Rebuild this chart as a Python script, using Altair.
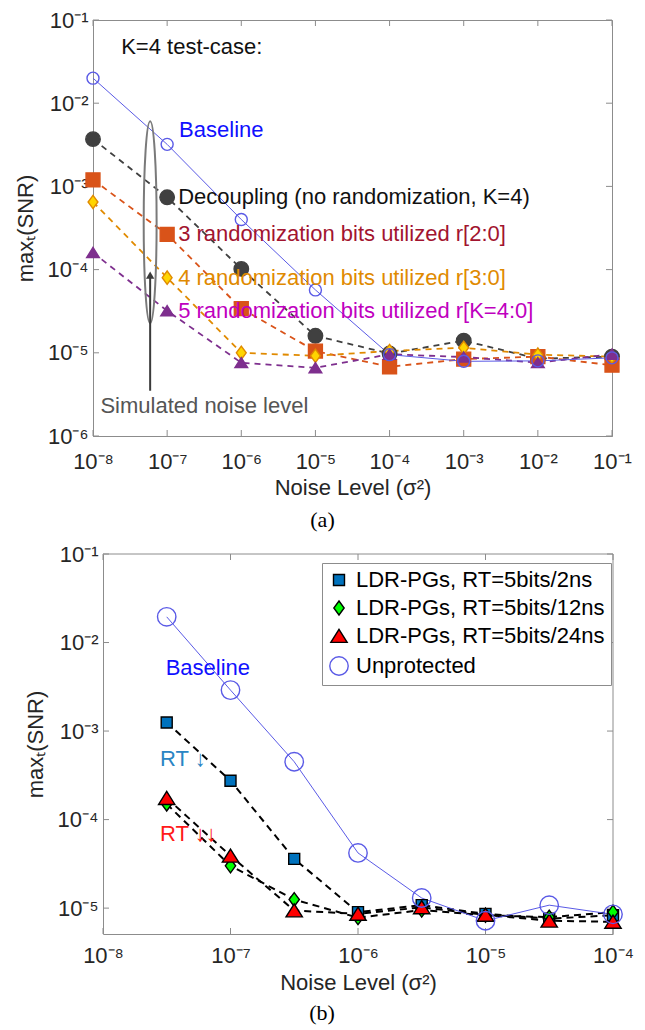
import altair as alt
import pandas as pd

# ---------------- Panel (a) data ----------------
noise_a = [1e-8, 1e-7, 1e-6, 1e-5, 1e-4, 1e-3, 1e-2, 1e-1]
decoupling_a = [3.7e-3, 7.4e-4, 1.02e-4, 1.6e-5, 9.8e-6, 1.4e-5, 8.5e-6, 9.0e-6]
bits3_a = [1.2e-3, 2.65e-4, 3.4e-5, 1.05e-5, 6.8e-6, 8.4e-6, 9.0e-6, 7.1e-6]
bits4_a = [6.5e-4, 8.0e-5, 1.0e-5, 9.2e-6, 1.05e-5, 1.15e-5, 9.5e-6, 9.0e-6]
bits5_a = [1.6e-4, 3.2e-5, 7.6e-6, 6.6e-6, 9.6e-6, 8.9e-6, 7.6e-6, 9.6e-6]
baseline_a = [2.0e-2, 3.2e-3, 4.0e-4, 5.7e-5, 9.5e-6, 7.9e-6, 8.0e-6, 8.7e-6]

series_a = ["Decoupling", "3 bits", "4 bits", "5 bits", "Baseline"]
values_a = [decoupling_a, bits3_a, bits4_a, bits5_a, baseline_a]
line_colors_a = ["#404040", "#D95319", "#E08A00", "#7E2F8E", "#5A5AE6"]
fill_colors_a = ["#404040", "#D95319", "#FFD500", "#7E2F8E", "rgba(0,0,0,0)"]
stroke_colors_a = ["#404040", "#D95319", "#E08A00", "#7E2F8E", "#5A5AE6"]
DIAMOND = "M0,-1L0.74,0L0,1L-0.74,0Z"
TRIANGLE = "M0,-0.82L1,0.78L-1,0.78Z"
shapes_a = ["circle", "square", DIAMOND, TRIANGLE, "circle"]
sizes_a = [210, 144, 440, 300, 190]

label_texts_a = ["Decoupling (no randomization, K=4)",
                 "3 randomization bits utilized r[2:0]",
                 "4 randomization bits utilized r[3:0]",
                 "5 randomization bits utilized r[K=4:0]"]
label_colors_a = ["#111111", "#A2142F", "#E08A00", "#BF00BF"]

free_texts_a = ["K=4 test-case:", "Baseline", "Simulated noise level"]
free_x_a = [2.4e-8, 1.45e-7, 1.26e-8]
free_y_a = [4.8e-2, 4.8e-3, 2.3e-6]
free_colors_a = ["#111111", "#1010FF", "#555555"]

ellipse_x_a = [5.9e-8]
ellipse_y_a = [3.7e-4]
arrow_x_a = [5.9e-8]
arrow_y_from_a = [3.5e-6]
arrow_y_to_a = [8.6e-5]
arrow_head_y_a = [8.6e-5]

xticks_a = [1e-8, 1e-7, 1e-6, 1e-5, 1e-4, 1e-3, 1e-2, 1e-1]
yticks_a = [1e-6, 1e-5, 1e-4, 1e-3, 1e-2, 1e-1]

# ---------------- Panel (b) data ----------------
noise_b = [3.16e-8, 1e-7, 3.16e-7, 1e-6, 3.16e-6, 1e-5, 3.16e-5, 1e-4]
ldr2_b = [1.25e-3, 2.75e-4, 3.6e-5, 9.0e-6, 1.08e-5, 8.6e-6, 7.6e-6, 8.3e-6]
ldr12_b = [1.5e-4, 3.0e-5, 1.25e-5, 7.8e-6, 9.5e-6, 8.3e-6, 7.9e-6, 9.0e-6]
ldr24_b = [1.75e-4, 3.9e-5, 9.4e-6, 8.6e-6, 1.02e-5, 8.4e-6, 7.2e-6, 7.0e-6]
unprot_b = [1.95e-2, 2.9e-3, 4.5e-4, 4.2e-5, 1.3e-5, 7.2e-6, 1.08e-5, 8.5e-6]

series_b = ["LDR-PGs, RT=5bits/2ns", "LDR-PGs, RT=5bits/12ns",
            "LDR-PGs, RT=5bits/24ns", "Unprotected"]
values_b = [ldr2_b, ldr12_b, ldr24_b, unprot_b]
fill_colors_b = ["#0072BD", "#00FF00", "#FF0000", "rgba(0,0,0,0)"]
stroke_colors_b = ["#000000", "#000000", "#000000", "#5A5AE6"]
shapes_b = ["square", DIAMOND, TRIANGLE, "circle"]
sizes_b = [121, 340, 260, 150]

free_texts_b = ["Baseline", "RT \u2193", "RT \u2193\u2193"]
free_x_b = [3.1e-8, 2.8e-8, 2.8e-8]
free_y_b = [5.1e-3, 4.8e-4, 6.9e-5]
free_colors_b = ["#1010FF", "#2A85C4", "#FF1A1A"]

xticks_b = [1e-8, 1e-7, 1e-6, 1e-5, 1e-4]
yticks_b = [1e-5, 1e-4, 1e-3, 1e-2, 1e-1]

# ---------------- helpers ----------------
FONT = "Liberation Sans"
FS = 22
SUP = ("'10\u207b' + substring('\u2070\u00b9\u00b2\u00b3\u2074\u2075\u2076\u2077\u2078\u2079', "
       "round(-log(datum.value)/LN10), round(-log(datum.value)/LN10)+1)")
AX_GRAY = "#8c8c8c"
TICK_LEN = 6


def x_enc(domain, ticks, rng=None, lab_pad=15, title_pad=5, field="noise"):
    sc = alt.Scale(type="log", domain=domain, nice=False)
    if rng is not None:
        sc = alt.Scale(type="log", domain=domain, nice=False, range=rng)
    return alt.X(f"{field}:Q", scale=sc,
                 axis=alt.Axis(values=ticks, labelExpr=SUP, title="Noise Level (\u03c3\u00b2)",
                               ticks=False, labelPadding=lab_pad, titlePadding=title_pad,
                               labelFlush=False, labelOverlap=False))


def y_enc(domain, ticks, title_pad, offset=0, field="snr"):
    return alt.Y(f"{field}:Q",
                 scale=alt.Scale(type="log", domain=domain, nice=False),
                 axis=alt.Axis(values=ticks, labelExpr=SUP, title="max\u209c(SNR)",
                               ticks=False, labelPadding=5, titlePadding=title_pad,
                               offset=offset, labelFlush=False, labelOverlap=False))


def inward_ticks(xt, yt, xe, ye, left, right, H):
    tx = pd.DataFrame({"noise": xt})
    ty = pd.DataFrame({"snr": yt})
    return [
        alt.Chart(tx).mark_rule(color=AX_GRAY).encode(x=xe, y=alt.value(H), y2=alt.value(H - TICK_LEN)),
        alt.Chart(tx).mark_rule(color=AX_GRAY).encode(x=xe, y=alt.value(0), y2=alt.value(TICK_LEN)),
        alt.Chart(ty).mark_rule(color=AX_GRAY).encode(y=ye, x=alt.value(left), x2=alt.value(left + TICK_LEN)),
        alt.Chart(ty).mark_rule(color=AX_GRAY).encode(y=ye, x=alt.value(right), x2=alt.value(right - TICK_LEN)),
    ]


# ---------------- Panel (a) ----------------
WA, HA = 519, 416
XDOM_A = [1e-8, 1e-1]
YDOM_A = [1e-6, 1e-1]

rows = []
for s, vals in zip(series_a, values_a):
    for n, v in zip(noise_a, vals):
        rows.append({"sa": s, "noise": n, "snr": v})
df_a = pd.DataFrame(rows)

xa = x_enc(XDOM_A, xticks_a)
ya = y_enc(YDOM_A, yticks_a, 10)

dashed_a = alt.Chart(df_a[df_a.sa != "Baseline"]).mark_line(
    strokeDash=[6, 5], strokeWidth=1.8).encode(
    x=xa, y=ya,
    color=alt.Color("sa:N", scale=alt.Scale(domain=series_a, range=line_colors_a), legend=None),
    detail="sa:N")
base_line_a = alt.Chart(df_a[df_a.sa == "Baseline"]).mark_line(
    strokeWidth=1, color="#5A5AE6").encode(x=xa, y=ya)

pts_a = alt.Chart(df_a).mark_point(filled=True, strokeWidth=1.4, opacity=1).encode(
    x=xa, y=ya,
    shape=alt.Shape("sa:N", scale=alt.Scale(domain=series_a, range=shapes_a), legend=None),
    fill=alt.Fill("sa:N", scale=alt.Scale(domain=series_a, range=fill_colors_a), legend=None),
    stroke=alt.Stroke("sa:N", scale=alt.Scale(domain=series_a, range=stroke_colors_a), legend=None),
    size=alt.Size("sa:N", scale=alt.Scale(domain=series_a, range=sizes_a), legend=None),
)

lab_df_a = pd.DataFrame({
    "noise": [noise_a[1]] * 4,
    "snr": [decoupling_a[1], bits3_a[1], bits4_a[1], bits5_a[1]],
    "label": label_texts_a,
    "col": label_colors_a,
})
labels_a = alt.Chart(lab_df_a).mark_text(align="left", baseline="middle", dx=11,
                                         fontSize=FS, font=FONT).encode(
    x=xa, y=ya, text="label:N", color=alt.Color("col:N", scale=None))

free_df_a = pd.DataFrame({"noise": free_x_a, "snr": free_y_a,
                          "label": free_texts_a, "col": free_colors_a})
free_a = alt.Chart(free_df_a).mark_text(align="left", baseline="middle",
                                        fontSize=FS, font=FONT).encode(
    x=xa, y=ya, text="label:N", color=alt.Color("col:N", scale=None))

ELLIPSE = "M0,-1A0.064,1 0 0,1 0,1A0.064,1 0 0,1 0,-1Z"
ell_df = pd.DataFrame({"noise": ellipse_x_a, "snr": ellipse_y_a})
ellipse = alt.Chart(ell_df).mark_point(shape=ELLIPSE, size=40804, filled=False,
                                       stroke="#7a7a7a", strokeWidth=2, opacity=1).encode(x=xa, y=ya)

arr_df = pd.DataFrame({"noise": arrow_x_a, "snr": arrow_y_from_a, "snr2": arrow_y_to_a})
arrow_line = alt.Chart(arr_df).mark_rule(color="#3a3a3a", strokeWidth=2).encode(
    x=xa, y=ya, y2=alt.Y2("snr2:Q"))
head_df = pd.DataFrame({"noise": arrow_x_a, "snr": arrow_head_y_a})
arrow_head = alt.Chart(head_df).mark_point(shape="triangle-up", size=70, filled=True,
                                           color="#3a3a3a", opacity=1).encode(x=xa, y=ya)

panel_a = alt.layer(
    *inward_ticks(xticks_a, yticks_a, xa, ya, 0, WA, HA),
    dashed_a, base_line_a, ellipse, arrow_line, arrow_head, pts_a, labels_a, free_a,
).properties(
    width=WA, height=HA,
    title=alt.TitleParams("(a)", orient="bottom", font="Liberation Serif", fontSize=22,
                          fontWeight="normal", color="#000000", dx=-30, offset=12),
)

# ---------------- Panel (b) ----------------
SHIFT_B = 10           # plot (b) starts 10 px right of plot (a)
WB, HB = 510 + SHIFT_B, 380
XDOM_B = [1e-8, 1e-4]
YDOM_B = [5.1e-6, 1e-1]

rows = []
for s, vals in zip(series_b, values_b):
    for n, v in zip(noise_b, vals):
        rows.append({"sb": s, "noise": n, "snr": v})
df_b = pd.DataFrame(rows)

xb = x_enc(XDOM_B, xticks_b, rng=[SHIFT_B, WB], lab_pad=11, title_pad=6)
yb = y_enc(YDOM_B, yticks_b, 10, offset=-SHIFT_B)

frame_b = [
    alt.Chart(pd.DataFrame({"k": [0]})).mark_rule(color=AX_GRAY).encode(
        x=alt.value(SHIFT_B), x2=alt.value(WB), y=alt.value(0)),
    alt.Chart(pd.DataFrame({"k": [0]})).mark_rule(color=AX_GRAY).encode(
        x=alt.value(WB), y=alt.value(0), y2=alt.value(HB)),
]

dashed_b = alt.Chart(df_b[df_b.sb != "Unprotected"]).mark_line(
    strokeDash=[7, 5], strokeWidth=2, color="#000000").encode(x=xb, y=yb, detail="sb:N")
unprot_line_b = alt.Chart(df_b[df_b.sb == "Unprotected"]).mark_line(
    strokeWidth=1, color="#5A5AE6").encode(x=xb, y=yb)

leg = alt.Legend(title=None, orient="none", legendX=219 + SHIFT_B, legendY=9,
                 fillColor="white", strokeColor=AX_GRAY, padding=6,
                 labelFontSize=FS, labelFont=FONT, labelColor="#000000", labelLimit=400,
                 rowPadding=6, symbolStrokeWidth=1.4, labelOffset=6, symbolOpacity=1)
pts_b = alt.Chart(df_b).mark_point(filled=True, strokeWidth=1.4, opacity=1).encode(
    x=xb, y=yb,
    shape=alt.Shape("sb:N", scale=alt.Scale(domain=series_b, range=shapes_b), legend=leg),
    fill=alt.Fill("sb:N", scale=alt.Scale(domain=series_b, range=fill_colors_b), legend=leg),
    stroke=alt.Stroke("sb:N", scale=alt.Scale(domain=series_b, range=stroke_colors_b), legend=leg),
    size=alt.Size("sb:N", scale=alt.Scale(domain=series_b, range=sizes_b), legend=leg),
)

free_df_b = pd.DataFrame({"noise": free_x_b, "snr": free_y_b,
                          "label": free_texts_b, "col": free_colors_b})
free_b = alt.Chart(free_df_b).mark_text(align="left", baseline="middle",
                                        fontSize=FS, font=FONT).encode(
    x=xb, y=yb, text="label:N", color=alt.Color("col:N", scale=None))

panel_b = alt.layer(
    *frame_b,
    *inward_ticks(xticks_b, yticks_b, xb, yb, SHIFT_B, WB, HB),
    dashed_b, unprot_line_b, pts_b, free_b,
    view=alt.ViewBackground(stroke="transparent"),
).properties(
    width=WB, height=HB,
    title=alt.TitleParams("(b)", orient="bottom", font="Liberation Serif", fontSize=22,
                          fontWeight="normal", color="#000000", dx=-31, offset=10),
)

chart = alt.vconcat(panel_a, panel_b, spacing=10).resolve_scale(
    shape="independent", fill="independent", stroke="independent", size="independent",
    color="independent"
).properties(
    padding={"left": 13, "top": 8, "right": 0, "bottom": 0}
).configure(font=FONT).configure_view(
    stroke=AX_GRAY, strokeWidth=1
).configure_axis(
    labelFont=FONT, titleFont=FONT, labelFontSize=FS, titleFontSize=FS,
    labelColor="#262626", titleColor="#262626", titleFontWeight="normal",
    domainColor=AX_GRAY, grid=False,
)

chart.save("out.html", embed_options={"renderer": "svg", "actions": False})
